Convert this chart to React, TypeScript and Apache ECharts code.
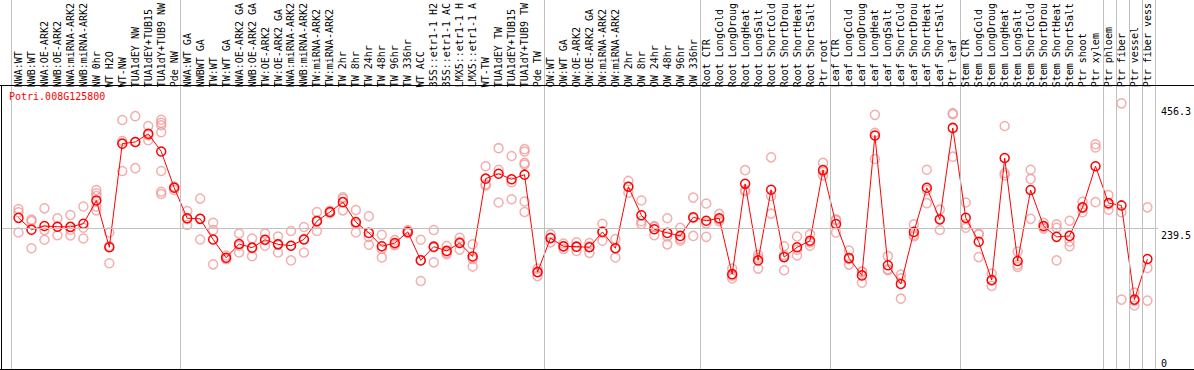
import React, { useEffect, useRef } from "react";
import * as echarts from "echarts";

const geneId = "Potri.008G125800";

const categories = [
  "NWA:WT", "NWB:WT", "NWA:OE-ARK2", "NWB:OE-ARK2", "NWA:miRNA-ARK2", "NWB:miRNA-ARK2",
  "NW 0hr", "WT H2O", "WT-NW", "TUA1dEY NW", "TUA1dEY+TUB15", "TUA1dY+TUB9 NW", "Pde NW",
  "NWA:WT GA", "NWBWT GA", "TW:WT", "TW:WT GA", "NWA:OE-ARK2 GA", "NWB:OE-ARK2 GA",
  "TW:OE-ARK2", "TW:OE-ARK2 GA", "NWA:miRNA-ARK2", "NWB:miRNA-ARK2", "TW:miRNA-ARK2",
  "TW:miRNA-ARK2", "TW 2hr", "TW 8hr", "TW 24hr", "TW 48hr", "TW 96hr", "TW 336hr",
  "WT ACC", "35S::etr1-1 H2", "35S::etr1-1 AC", "LMX5::etr1-1 H", "LMX5::etr1-1 A",
  "WT-TW", "TUA1dEY TW", "TUA1dEY+TUB15", "TUA1dY+TUB9 TW", "Pde TW",
  "OW:WT", "OW:WT GA", "OW:OE-ARK2", "OW:OE-ARK2 GA", "OW:miRNA-ARK2", "OW:miRNA-ARK2",
  "OW 2hr", "OW 8hr", "OW 24hr", "OW 48hr", "OW 96hr", "OW 336hr",
  "Root CTR", "Root LongCold", "Root LongDroug", "Root LongHeat", "Root LongSalt",
  "Root ShortCold", "Root ShortDrou", "Root ShortHeat", "Root ShortSalt", "Ptr root",
  "Leaf CTR", "Leaf LongCold", "Leaf LongDroug", "Leaf LongHeat", "Leaf LongSalt",
  "Leaf ShortCold", "Leaf ShortDrou", "Leaf ShortHeat", "Leaf ShortSalt", "Ptr leaf",
  "Stem CTR", "Stem LongCold", "Stem LongDroug", "Stem LongHeat", "Stem LongSalt",
  "Stem ShortCold", "Stem ShortDrou", "Stem ShortHeat", "Stem ShortSalt",
  "Ptr shoot", "Ptr xylem", "Ptr phloem", "Ptr fiber", "Ptr vessel", "Ptr fiber vess",
];

const means = [
  261.7, 241.2, 247.5, 246.3, 246.0, 251.5, 291.9, 210.4, 391.1, 394.0, 408.2, 377.5, 314.2,
  261.1, 260.0, 224.1, 192.2, 216.1, 209.8, 223.5, 215.5, 213.2, 224.1, 256.0, 272.0, 289.1,
  254.3, 235.5, 212.1, 217.8, 237.2, 187.6, 211.5, 204.1, 217.8, 194.4, 330.1, 338.7, 329.0,
  337.0, 167.1,
  226.4, 212.1, 211.5, 210.4, 237.2, 208.7, 315.9, 266.3, 241.8, 235.5, 230.3, 262.8,
  256.6, 261.1, 163.6, 321.0, 187.6, 310.7, 193.3, 210.4, 221.8, 345.0,
  251.0, 191.6, 161.4, 405.4, 179.1, 146.5, 237.2, 314.2, 258.9, 418.5,
  261.7, 220.1, 153.4, 366.1, 186.5, 310.2, 247.5, 228.6, 230.3,
  280.0, 351.8, 287.4, 283.4, 119.2, 189.9,
];

const replicates = [
  [277.1, 271.4, 236.1], [258.9, 256.0, 208.7], [278.3, 240.6, 223.5], [261.1, 246.3, 231.5],
  [266.8, 241.0, 231.0], [281.6, 244.6, 225.8], [310.2, 304.5, 299.9, 281.6, 274.8],
  [236.1, 212.6, 182.5], [432.2, 395.7, 343.3], [439.0, 394.0, 348.4], [421.9, 406.0, 396.9],
  [432.8, 427.6, 423.1, 411.1, 343.3, 307.3, 303.3], [315.9, 316.0, 310.2],
  [273.7, 260.0, 249.2], [295.3, 260.0, 224.1], [253.2, 240.6, 180.7], [196.0, 190.0, 190.0],
  [234.3, 213.0, 201.3], [225.8, 209.0, 195.0], [234.3, 223.0, 213.2], [229.2, 216.0, 201.3],
  [238.9, 213.0, 187.6], [245.7, 225.0, 201.3], [272.0, 257.0, 238.9], [274.0, 272.0, 270.0],
  [297.6, 295.0, 274.8], [275.3, 251.0, 236.1], [264.6, 228.6, 214.9], [232.1, 207.5, 192.7],
  [222.9, 216.0, 214.0], [240.6, 236.0, 235.0], [223.5, 188.0, 151.6], [240.6, 210.0, 184.2],
  [212.7, 201.0, 198.4], [226.9, 220.0, 206.4], [215.5, 190.0, 176.8], [351.8, 320.4, 318.0],
  [383.2, 345.5, 288.5], [369.5, 323.9, 294.2], [381.5, 377.5, 357.5, 354.6, 290.2, 272.0],
  [173.3, 168.0, 160.2],
  [233.0, 227.0, 219.0], [217.0, 212.0, 207.5], [219.0, 211.0, 204.1], [217.8, 212.0, 200.7],
  [251.5, 238.0, 221.8], [224.7, 209.0, 192.7], [326.1, 316.0, 305.6], [291.9, 256.0, 251.0],
  [247.5, 246.0, 231.5], [261.1, 229.2, 215.5], [244.6, 225.0, 221.8], [297.0, 261.0, 230.3],
  [286.8, 252.1, 228.6], [268.6, 258.9, 256.0], [173.3, 161.0, 156.2], [344.9, 310.2, 308.0],
  [197.3, 192.0, 173.3], [367.2, 299.9, 269.1], [212.1, 197.0, 170.5], [229.2, 206.0, 196.1],
  [233.0, 219.0, 213.2], [357.5, 342.0, 335.8],
  [259.0, 257.7, 236.1], [204.7, 190.0, 180.2], [168.0, 167.6, 148.8], [441.3, 410.0, 364.4],
  [195.0, 172.0, 170.5], [163.1, 156.2, 120.9], [250.3, 232.0, 229.2], [345.5, 310.0, 287.4],
  [276.0, 260.0, 240.6], [444.2, 442.5, 368.4],
  [288.5, 250.3, 244.6], [234.0, 233.0, 193.3], [164.8, 152.0, 143.1], [421.9, 340.0, 335.8],
  [203.0, 180.0, 176.2], [345.5, 329.6, 260.0], [253.2, 246.0, 243.0], [250.3, 244.6, 187.6],
  [256.6, 220.7, 212.1],
  [289.7, 279.0, 271.4], [390.0, 384.3, 289.1], [301.6, 285.0, 276.0], [461.3, 271.4, 119.2],
  [131.7, 117.0, 108.9], [280.0, 174.5, 117.5],
];

const groupBoundaries = [0, 13, 41, 53, 63, 73, 84, 85, 86, 87, 88];
const midTick = 239.5;
const yTopLabels = [239.5, 456.3];
const yBottomLabels = [0];

const MONO = "DejaVu Sans Mono";

export default function App() {
  const ref = useRef<HTMLDivElement>(null);

  useEffect(() => {
    if (!ref.current) return;
    const chart = echarts.init(ref.current, null, { renderer: "svg" });

    const repData: number[][] = [];
    replicates.forEach((vals, i) => vals.forEach((v) => repData.push([i, v])));

    const yMax = 484.1;
    const pxPerUnit = 283 / yMax;

    chart.setOption({
      animation: false,
      backgroundColor: "#ffffff",
      title: {
        text: geneId,
        left: 9,
        top: 91,
        padding: 0,
        textStyle: { color: "#ff0000", fontFamily: MONO, fontSize: 10, fontWeight: "normal" },
      },
      grid: [
        { left: 12, width: 1144, top: 85, height: 283 },
        { left: 1, width: 1157, top: 0, height: 370 },
      ],
      xAxis: [
        {
          type: "category",
          gridIndex: 0,
          data: categories,
          position: "top",
          boundaryGap: true,
          axisLine: { show: false },
          axisTick: { show: false },
          splitLine: { show: false },
          axisLabel: {
            interval: 0,
            rotate: 90,
            margin: 3,
            fontFamily: MONO,
            fontSize: 10,
            color: "#000000",
          },
        },
        { type: "value", gridIndex: 1, min: -10 / 13, max: 1147 / 13, show: false },
      ],
      yAxis: [
        {
          type: "value",
          gridIndex: 0,
          min: 0,
          max: yMax,
          position: "right",
          axisLine: { show: false },
          axisTick: { show: false },
          splitLine: { show: false },
          axisLabel: {
            customValues: yTopLabels,
            verticalAlign: "top",
            margin: 7,
            fontFamily: MONO,
            fontSize: 10,
            color: "#000000",
          },
        },
        {
          type: "value",
          gridIndex: 0,
          min: 0,
          max: yMax,
          position: "right",
          axisLine: { show: false },
          axisTick: { show: false },
          splitLine: { show: false },
          axisLabel: {
            customValues: yBottomLabels,
            verticalAlign: "bottom",
            margin: 7,
            fontFamily: MONO,
            fontSize: 10,
            color: "#000000",
          },
        },
        {
          type: "value",
          gridIndex: 1,
          min: -2 / pxPerUnit,
          max: 368 / pxPerUnit,
          show: false,
        },
      ],
      graphic: [
        { type: "line", shape: { x1: 0, y1: 85.5, x2: 1194, y2: 85.5 }, style: { stroke: "#000", lineWidth: 1 }, z: 10 },
        { type: "line", shape: { x1: 1.5, y1: 85, x2: 1.5, y2: 370 }, style: { stroke: "#000", lineWidth: 1 }, z: 10 },
        { type: "line", shape: { x1: 0, y1: 369.5, x2: 1194, y2: 369.5 }, style: { stroke: "#000", lineWidth: 1 }, z: 10 },
      ],
      series: [
        {
          type: "scatter",
          xAxisIndex: 1,
          yAxisIndex: 2,
          data: [[0, -3]],
          symbolSize: 0,
          itemStyle: { opacity: 0 },
          silent: true,
          z: 1,
          markLine: {
            silent: true,
            symbol: ["none", "none"],
            label: { show: false },
            lineStyle: { color: "#c0c0c0", width: 1, type: "solid" },
            data: [...groupBoundaries.map((b) => ({ xAxis: b })), { yAxis: midTick }],
          },
        },
        {
          type: "scatter",
          xAxisIndex: 0,
          yAxisIndex: 0,
          data: repData,
          symbol: "circle",
          symbolSize: 9,
          itemStyle: { color: "rgba(0,0,0,0)", borderColor: "#f09a9a", borderWidth: 1.5 },
          z: 2,
        },
        {
          type: "line",
          xAxisIndex: 0,
          yAxisIndex: 0,
          data: means,
          symbol: "circle",
          symbolSize: 9,
          showSymbol: true,
          lineStyle: { color: "#ff0000", width: 1 },
          itemStyle: { color: "rgba(0,0,0,0)", borderColor: "#ff0000", borderWidth: 1.5 },
          z: 3,
        },
      ],
    });

    return () => chart.dispose();
  }, []);

  return (
    <div
      ref={ref}
      style={{ position: "fixed", left: 0, top: 0, width: 1194, height: 370 }}
    />
  );
}
